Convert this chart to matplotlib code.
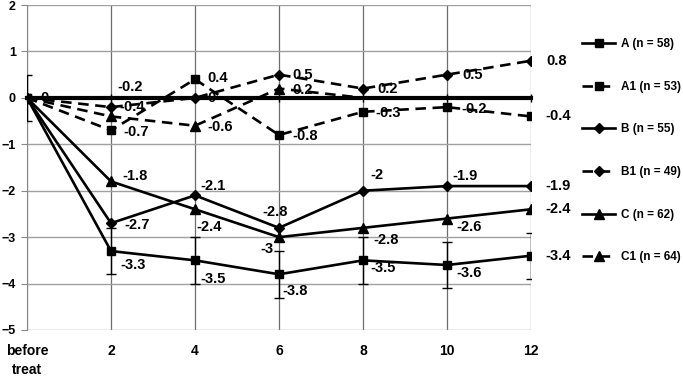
import matplotlib.pyplot as plt

plt.rcParams['font.family'] = ['Liberation Sans', 'DejaVu Sans']
plt.rcParams['font.weight'] = 'bold'

categories = ['before\ntreat', '2', '4', '6', '8', '10', '12']
names = ['A (n = 58)', 'A1 (n = 53)', 'B (n = 55)', 'B1 (n = 49)', 'C (n = 62)', 'C1 (n = 64)']

a_vals = [0, -3.3, -3.5, -3.8, -3.5, -3.6, -3.4]
a_err = [0.5, 0.5, 0.5, 0.5, 0.5, 0.5, 0.5]
a1_vals = [0, -0.7, 0.4, -0.8, -0.3, -0.2, -0.4]
b_vals = [0, -2.7, -2.1, -2.8, -2.0, -1.9, -1.9]
b1_vals = [0, -0.2, 0, 0.5, 0.2, 0.5, 0.8]
c_vals = [0, -1.8, -2.4, -3.0, -2.8, -2.6, -2.4]
c1_vals = [0, -0.4, -0.6, 0.2, 0, 0, 0]

# label placement (pixels right / down from the point), None = no label
a_lab = [None, (9, 14), (5, 19), (3, 17), (7, 8), (9, 8), (14, 0)]
a1_lab = [None, (12, 2), (12, -1), (13, 1), (12, 1), (14, 2), (14, 0)]
b_lab = [None, (13, 2), (5, -9), (-17, -16), (7, -16), (5, -10), (14, 0)]
b1_lab = [(13, 0), (6, -20), (12, 0), (13, 0), (14, 0), (15, 0), (15, 0)]
c_lab = [None, (11, -5), (1, 18), (-19, 12), (10, 12), (9, 8), (14, 0)]
c1_lab = [None, (8, -9), (12, 1), (13, 1), None, None, None]

x = list(range(len(categories)))

fig = plt.figure(figsize=(6.83, 3.77), dpi=100)
ax = fig.add_axes([27 / 683, 1 - 330 / 377, (531 - 27) / 683, 325 / 377])

dash = (0, (4, 2.5))
series = [
    (a_vals, a_lab, 's', 6, '-', None),
    (a1_vals, a1_lab, 's', 6, dash, None),
    (b_vals, b_lab, 'D', 5.5, '-', None),
    (b1_vals, b1_lab, 'D', 5.5, dash, None),
    (c_vals, c_lab, '^', 7, '-', None),
    (c1_vals, c1_lab, '^', 7, dash, [0, 1, 2, 3]),
]

for (vals, labs, mk, ms, ls, mev), name in zip(series, names):
    ax.plot(x, vals, color='black', lw=1.9, ls=ls, marker=mk, ms=ms,
            markevery=mev, label=name, zorder=4)
    for xi, v, off in zip(x, vals, labs):
        if off is None:
            continue
        ax.annotate('{:g}'.format(v), (xi, v), xytext=(off[0], -off[1]),
                    textcoords='offset pixels', ha='left', va='center',
                    fontsize=10.5, fontweight='bold', zorder=5)

ax.errorbar(x, a_vals, yerr=a_err, fmt='none', ecolor='black', elinewidth=1,
            capsize=3.5, capthick=1, zorder=3)

ax.set_xlim(0, 6)
ax.set_ylim(-5, 2)
ax.set_yticks(range(-5, 3))
ax.set_xticks(x)
ax.grid(axis='y', color='#a0a0a0', lw=1)
ax.grid(axis='x', color='#6e6e6e', lw=0.9)
ax.set_axisbelow(True)

ax.spines['top'].set_visible(False)
ax.spines['right'].set_visible(False)
ax.spines['left'].set_color('#888888')
ax.spines['bottom'].set_position(('data', 0))
ax.spines['bottom'].set_linewidth(3)
ax.spines['bottom'].set_zorder(3.5)
ax.tick_params(axis='x', direction='inout', length=6, width=1, labelbottom=False)
ax.tick_params(axis='y', direction='out', length=4, color='#888888',
               labelsize=9, pad=4)

sec = ax.secondary_xaxis('bottom')
sec.set_xticks(x, categories)
sec.spines['bottom'].set_visible(False)
sec.tick_params(length=0, pad=10, labelsize=10)
for t in sec.get_xticklabels():
    t.set_fontweight('bold')
    t.set_linespacing(1.5)
for t in ax.get_yticklabels():
    t.set_fontweight('bold')

fig.legend(loc='upper left', bbox_to_anchor=(582 / 683, 1 - 38 / 377),
           frameon=False, fontsize=8.5, labelspacing=2.6, handlelength=2.8,
           handletextpad=0.5, borderaxespad=0, borderpad=0)

plt.savefig('out.png', dpi=100)
